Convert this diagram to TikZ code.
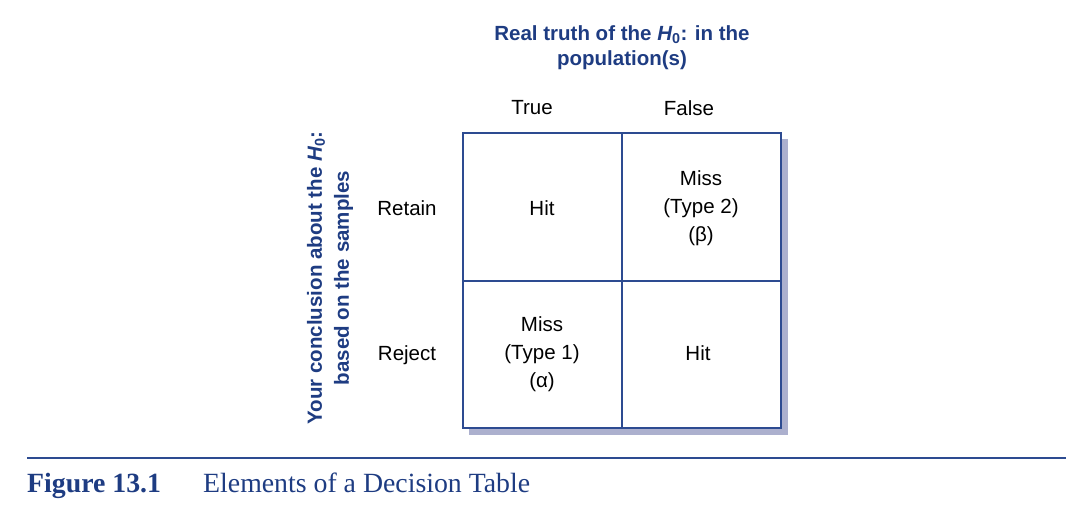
\documentclass[tikz,border=0pt]{standalone}
\usepackage{fontspec}
\setmainfont{Liberation Sans}
\newfontfamily\capfont{Liberation Serif}
\definecolor{navy}{RGB}{30,60,130}
\definecolor{gridblue}{RGB}{45,75,145}
\definecolor{shadowcol}{RGB}{172,176,206}
\tikzset{
  lbl/.style={font=\fontsize{20.5}{28}\selectfont, align=center, inner sep=0pt},
  ttl/.style={font=\fontsize{20.5}{25}\selectfont\bfseries, text=navy, align=center, inner sep=0pt},
  sidettl/.style={font=\fontsize{20.5}{27}\selectfont\bfseries, text=navy, align=center, inner sep=0pt},
  captext/.style={font=\capfont\fontsize{27.8}{30}\selectfont, text=navy, inner sep=0pt, anchor=base west},
  gridline/.style={draw=gridblue, line width=1.1pt}
}
\newcommand{\Hnull}{{\itshape H}\textsubscript{0}}
\begin{document}
\begin{tikzpicture}[x=1pt,y=-1pt]
\useasboundingbox (0,0) rectangle (1086,513);
% shadow
\fill[shadowcol] (469,139) rectangle (788,435);
\fill[white] (463,133) rectangle (781,428);
% grid
\coordinate (tl) at (463,133);
\coordinate (br) at (781,428);
\draw[gridline] (tl) rectangle (br);
\draw[gridline] (622,133) -- (622,428);
\draw[gridline] (463,281) -- (781,281);
% titles
\node[ttl] (top) at (622,48) {Real truth of the \Hnull: in the\\population(s)};
\node[sidettl, rotate=90] (side) at (330,278) {Your conclusion about the \Hnull:\\based on the samples};
% headers
\node[lbl] (true) at (532,108) {True};
\node[lbl] (false) at (689,108) {False};
\node[lbl] (retain) at (407,208) {Retain};
\node[lbl] (reject) at (407,355) {Reject};
% cells
\node[lbl] (c11) at (542,208) {Hit};
\node[lbl] (c12) at (701,208) {Miss\\(Type 2)\\(β)};
\node[lbl] (c21) at (542,354) {Miss\\(Type 1)\\(α)};
\node[lbl] (c22) at (698,353) {Hit};
% caption
\draw[gridblue, line width=1.2pt] (27,458) -- (1066,458);
\node[captext, font=\capfont\fontsize{27.8}{30}\selectfont\bfseries] (fig) at (27,492) {Figure 13.1};
\node[captext] (captxt) at (203,492) {Elements of a Decision Table};
\end{tikzpicture}
\end{document}
